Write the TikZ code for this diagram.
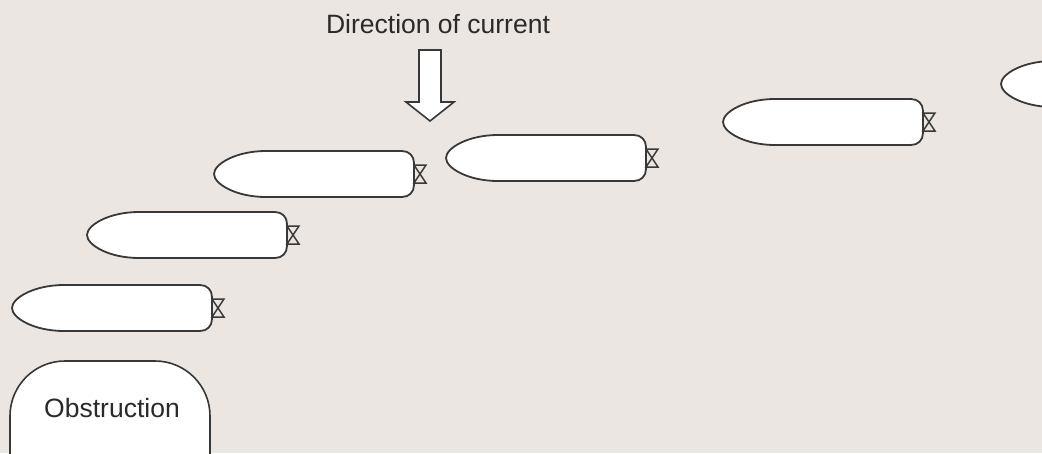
\documentclass[tikz,border=0pt]{standalone}
\usepackage{fontspec}
\setmainfont{Liberation Sans}
\definecolor{bgc}{HTML}{EBE6E1}
\definecolor{ink}{HTML}{383838}
\definecolor{txt}{HTML}{2A2A2A}
\tikzset{
  hull/.style={draw=ink, line width=1.8pt, fill=white, line join=round},
  prop/.style={draw=ink, line width=1.5pt, line join=miter},
  lbl/.style={text=txt, font=\fontsize{26.5}{31}\selectfont, inner sep=0pt},
  solidform/.style={draw=ink, line width=1.6pt, fill=white},
  ship/.pic={
    \path[hull] (0,0) .. controls (0,-10) and (22,-23) .. (52,-23) -- (188,-23)
      .. controls (195,-23) and (200,-18) .. (200,-11) -- (200,11)
      .. controls (200,18) and (195,23) .. (188,23) -- (52,23)
      .. controls (22,23) and (0,10) .. (0,0) -- cycle;
    \path[prop] (200,-9) -- (212,-9) -- (200,9) -- (212,9) -- cycle;
    \coordinate (-bow) at (0,0);
  }
}
\begin{document}
\begin{tikzpicture}[x=1pt,y=-1pt]
  \fill[bgc] (0,0) rectangle (1042,453);
  \useasboundingbox (0,0) rectangle (1042,453);
  % title and current arrow
  \node[lbl] (title) at (438,24) {Direction of current};
  \path[solidform, line join=miter] (419,50) -- (441,50) -- (441,102) -- (454,102)
    -- (430,121) -- (406,102) -- (419,102) -- cycle;
  % ships
  \pic (s1) at (214,174) {ship};
  \pic (s2) at (87,235) {ship};
  \pic (s3) at (12,308) {ship};
  \pic (s4) at (446,158) {ship};
  \pic (s5) at (723,122) {ship};
  \pic (s6) at (1001,84) {ship};
  % obstruction
  \path[solidform, rounded corners=55] (10,470) -- (10,361) -- (210,361) -- (210,470);
  \node[lbl] (obs) at (112,408) {Obstruction};
\end{tikzpicture}
\end{document}
